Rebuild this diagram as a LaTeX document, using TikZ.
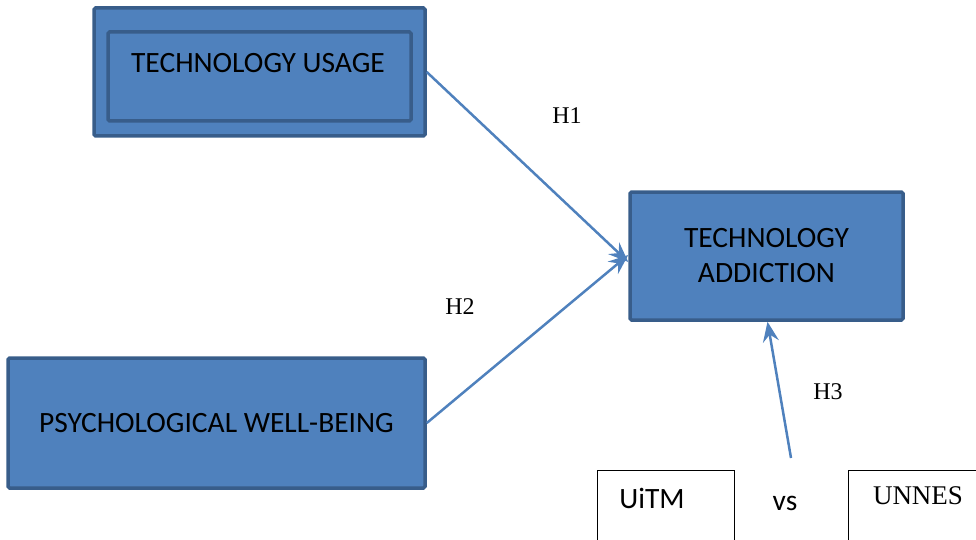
\documentclass[tikz,border=0pt]{standalone}
\usepackage{fontspec}
\setmainfont{Carlito}
\newfontfamily\timesfont{Liberation Serif}
\usetikzlibrary{arrows.meta}

\definecolor{officeBlue}{HTML}{4F81BD}
\definecolor{officeEdge}{HTML}{385D8A}

\tikzset{
  blockbox/.style={draw=officeEdge, fill=officeBlue, line width=3.5pt,
    rounded corners=1.5pt, inner sep=0pt, align=center,
    font=\fontsize{29.5}{35}\selectfont},
  plainbox/.style={draw=black, line width=1pt, inner sep=0pt},
  hlabel/.style={font=\timesfont\fontsize{24}{28}\selectfont},
  link/.style={draw=officeBlue, line width=2.5pt, -{Stealth[length=20pt,width=16pt,inset=7pt]}},
}

\begin{document}
\begin{tikzpicture}[x=1pt, y=-1pt]
  \useasboundingbox (0,0) rectangle (976,540);

  %--- technology usage (double frame) ---
  \node[blockbox, minimum width=331pt, minimum height=128pt] (usage) at (259.5,72) {};
  \node[blockbox, fill=none, minimum width=303pt, minimum height=89pt] (usageIn) at (259.5,76.5) {};
  \node[font=\fontsize{29.5}{35}\selectfont] (usageTxt) at (258,63) {TECHNOLOGY USAGE};

  %--- psychological well-being ---
  \node[blockbox, minimum width=417pt, minimum height=130pt] (psych) at (216.5,423) {PSYCHOLOGICAL WELL-BEING};

  %--- technology addiction ---
  \node[blockbox, minimum width=273pt, minimum height=128pt] (addict) at (766.5,256) {TECHNOLOGY\\ADDICTION};

  %--- universities ---
  \node[plainbox, minimum width=137pt, minimum height=80pt] (uitm) at (665.5,510) {};
  \node[font=\fontsize{29.5}{35}\selectfont] (uitmTxt) at (652,498) {UiTM};
  \node[font=\fontsize{29.5}{35}\selectfont] (vs) at (785,503) {vs};
  \node[plainbox, minimum width=140pt, minimum height=80pt] (unnes) at (918,510) {};
  \node[font=\timesfont\fontsize{27}{32}\selectfont] (unnesTxt) at (918,496) {UNNES};

  %--- hypotheses ---
  \node[hlabel] (h1) at (567,116) {H1};
  \node[hlabel] (h2) at (460,307) {H2};
  \node[hlabel] (h3) at (828,392) {H3};

  \coordinate (h3start) at (791,458);

  \draw[link] (usage.east) -- ([yshift=-6pt]addict.west);
  \draw[link] (psych.east) -- ([yshift=1pt]addict.west);
  \draw[link] (h3start) -- ([xshift=1pt]addict.south);
\end{tikzpicture}
\end{document}
